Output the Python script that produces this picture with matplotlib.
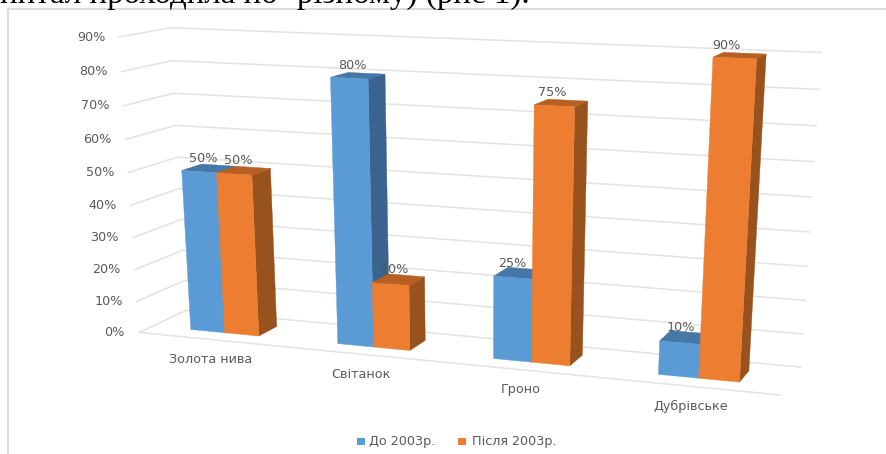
import numpy as np
import matplotlib
matplotlib.use("Agg")
import matplotlib.pyplot as plt
from matplotlib.patches import Polygon, Rectangle

# Chart data
categories = ["Золота нива", "Світанок", "Гроно", "Дубрівське"]
before_2003 = [50, 80, 25, 10]
after_2003 = [50, 20, 75, 90]
series_names = ["До 2003р.", "Після 2003р."]
value_ticks = [0, 10, 20, 30, 40, 50, 60, 70, 80, 90]

# Camera calibration: cage coordinates (x, depth, value) to canvas pixels
cage_pts = np.array([
    [0, 0, 0], [0, 0, 50], [0, 0, 90],
    [0, 1, 0], [0, 1, 50], [0, 1, 90],
    [1, 1, 0], [1, 1, 50], [1, 1, 90],
    [1, 0, 0],
], dtype=float)
pixel_pts = np.array([
    [139, 332.7], [128.3, 172.7], [119, 37],
    [186, 310], [178, 157.3], [170, 27.7],
    [800.7, 367.3], [811.7, 197.3], [821, 52.3],
    [780, 394.7],
], dtype=float)


def fit_camera(world, image):
    scale = np.array([1.0, 1.0, 1 / 90.0])
    rows = []
    for (wx, wy, wz), (u, v) in zip(world * scale, image):
        rows.append([wx, wy, wz, 1, 0, 0, 0, 0, -u * wx, -u * wy, -u * wz, -u])
        rows.append([0, 0, 0, 0, wx, wy, wz, 1, -v * wx, -v * wy, -v * wz, -v])
    _, _, vt = np.linalg.svd(np.array(rows))
    return vt[-1].reshape(3, 4), scale


CAMERA, WORLD_SCALE = fit_camera(cage_pts, pixel_pts)


def project(x, d, z):
    h = CAMERA @ np.array([x * WORLD_SCALE[0], d * WORLD_SCALE[1], z * WORLD_SCALE[2], 1.0])
    return h[0] / h[2], h[1] / h[2]


BLUE = ("#5B9BD5", "#4677A6", "#3A648D")
ORANGE = ("#ED7D31", "#B85F22", "#97521D")
GRID = "#E2E2E2"
TEXT = "#595959"
LABEL_SIZE = 9.2
BAR_SHARE = 0.47
DEPTH_FRONT, DEPTH_BACK = 0.29, 0.70
# Horizontal nudge of the value labels, (first series, second series) per category
LABEL_NUDGE = [(-5.5, -6), (-6, -4), (-8, -9), (-5, -13)]

fig = plt.figure(figsize=(8.87, 4.54), dpi=100)
ax = fig.add_axes([0, 0, 1, 1])
ax.set_xlim(0, 887)
ax.set_ylim(454, 0)
ax.axis("off")

# Caption line running off the top of the page, and the frame under it
ax.text(0, 3, "питал проходила по `різному) (рис 1).", family="Liberation Serif",
        fontsize=23.8, color="black", ha="left", va="baseline")
ax.plot([8, 8, 887], [454, 9.3, 9.3], color="#D9D9D9", lw=1.3, zorder=1)

# Gridlines on both walls and the floor
for v in value_ticks:
    pts = [project(0, 0, v), project(0, 1, v), project(1, 1, v)]
    ax.plot(*zip(*pts), color=GRID, lw=1.1, zorder=2, solid_joinstyle="miter")
    fx, fy = pts[0]
    ax.text(fx - 14, fy, f"{v}%", ha="right", va="center", fontsize=LABEL_SIZE, color=TEXT)
ax.plot(*zip(project(0, 0, 0), project(1, 0, 0)), color=GRID, lw=1.1, zorder=2)


def draw_bar(x0, x1, value, colours, z):
    front, top, side = colours
    a = project(x0, DEPTH_FRONT, 0)
    b = project(x1, DEPTH_FRONT, 0)
    c = project(x1, DEPTH_FRONT, value)
    e = project(x0, DEPTH_FRONT, value)
    f = project(x1, DEPTH_BACK, 0)
    g = project(x1, DEPTH_BACK, value)
    h = project(x0, DEPTH_BACK, value)
    ax.add_patch(Polygon([b, f, g, c], fc=side, ec=side, lw=0.3, zorder=z))
    ax.add_patch(Polygon([e, c, g, h], fc=top, ec=top, lw=0.3, zorder=z))
    ax.add_patch(Polygon([a, b, c, e], fc=front, ec=front, lw=0.3, zorder=z))


n = len(categories)
for i, name in enumerate(categories):
    centre = (i + 0.5) / n
    half = BAR_SHARE / n / 2
    z = 3 + i * 2
    draw_bar(centre - half, centre, before_2003[i], BLUE, z)
    draw_bar(centre, centre + half, after_2003[i], ORANGE, z + 1)

    marks = ((centre - half / 2, before_2003[i]), (centre + half / 2, after_2003[i]))
    for (x_mid, val), nudge in zip(marks, LABEL_NUDGE[i]):
        lx, ly = project(x_mid, 0.5, val)
        ax.text(lx + nudge, ly - 10, f"{val}%", ha="center", va="center",
                fontsize=LABEL_SIZE, color=TEXT, zorder=20)

    cx, cy = project(centre, 0, 0)
    ax.text(cx - 1, cy + 20, name, ha="center", va="center",
            fontsize=LABEL_SIZE, color=TEXT, zorder=20)

# Legend along the bottom
ax.add_patch(Rectangle((357, 437.5), 8, 7, fc=BLUE[0], ec="none"))
ax.text(369, 441, series_names[0], ha="left", va="center", fontsize=LABEL_SIZE, color=TEXT)
ax.add_patch(Rectangle((458, 437.5), 8, 7, fc=ORANGE[0], ec="none"))
ax.text(472, 441, series_names[1], ha="left", va="center", fontsize=LABEL_SIZE, color=TEXT)

fig.savefig("out.png", dpi=100)
